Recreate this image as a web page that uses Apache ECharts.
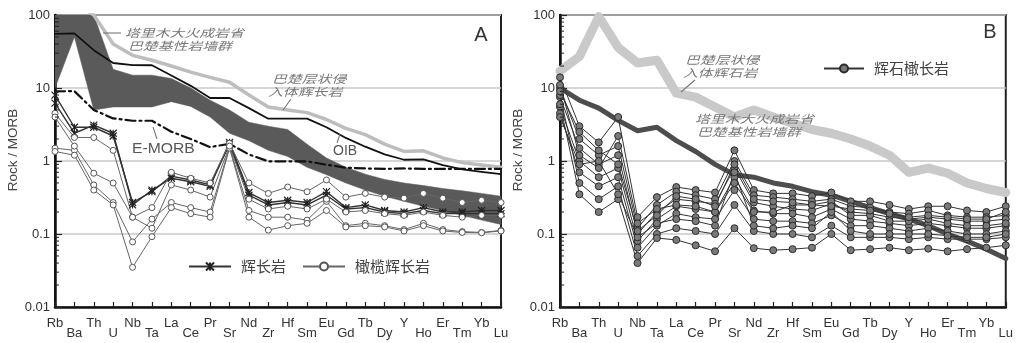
<!DOCTYPE html>
<html><head><meta charset="utf-8">
<script src="https://cdn.jsdelivr.net/npm/echarts@6/dist/echarts.min.js"></script>
<style>html,body{margin:0;padding:0;background:#fff}#c{width:1016px;height:343px}</style>
</head><body><div id="c"></div>
<script>
// ---- data ----
const elements = ['Rb','Ba','Th','U','Nb','Ta','La','Ce','Pr','Sr','Nd','Zr','Hf','Sm','Eu','Gd','Tb','Dy','Y','Ho','Er','Tm','Yb','Lu'];
const yTickLabels = ['0.01','0.1','1','10','100'];
const minorTickValues = [0.02,0.03,0.04,0.05,0.06,0.07,0.08,0.09,0.2,0.3,0.4,0.5,0.6,0.7,0.8,0.9,2,3,4,5,6,7,8,9,20,30,40,50,60,70,80,90];

// Panel A
const oib   = [55,56,33,22,20.6,20.5,14.8,10.7,7.3,7.3,5.3,3.8,3.8,3.8,2.9,2.07,1.57,1.23,1.04,1.05,0.88,0.77,0.71,0.66];
const emorb = [9.0,9.05,5.0,3.83,3.56,3.56,2.52,2.0,1.55,1.72,1.23,0.99,0.99,0.99,0.89,0.81,0.79,0.78,0.79,0.78,0.78,0.78,0.78,0.78];
const bachuGabbroA = [150,150,100,40,28,24,20,16.5,14,12,8,5.5,5,4.6,3.7,2.8,2.3,1.7,1.35,1.38,1.1,0.95,0.88,0.82];
const dykeUpperA = [150,150,100,18,15,15,13.5,10,6.8,5.0,3.4,3.0,2.7,1.7,1.1,0.82,0.66,0.56,0.50,0.46,0.42,0.39,0.36,0.33];
const dykeLowerA = [10,50,5.0,5.5,5.5,5.5,6.5,5.6,4.0,2.4,1.9,1.4,1.15,0.82,0.65,0.5,0.4,0.33,0.28,0.24,0.21,0.18,0.155,0.135];
const gabbro1 = [6.2,2.4,3.1,2.4,0.25,0.40,0.58,0.52,0.45,1.8,0.37,0.27,0.29,0.27,0.38,0.23,0.25,0.21,0.20,0.23,0.20,0.20,0.21,0.21];
const gabbro2 = [8.0,2.9,2.9,2.2,0.27,0.38,0.62,0.55,0.47,1.7,0.34,0.25,0.27,0.25,0.34,0.22,0.23,0.20,0.19,0.21,0.19,0.19,0.19,0.19];
const olGabbro1 = [4.5,2.1,2.1,1.4,0.17,0.23,0.70,0.58,0.50,1.75,0.50,0.36,0.44,0.38,0.55,0.32,0.36,0.32,0.31,0.36,0.31,0.27,0.29,0.27];
const olGabbro2 = [1.5,1.4,0.47,0.27,0.078,0.16,0.27,0.23,0.20,1.55,0.21,0.17,0.17,0.155,0.28,0.13,0.14,0.13,0.115,0.14,0.115,0.108,0.105,0.112];
const olGabbro3 = [1.35,1.2,0.40,0.25,0.035,0.092,0.23,0.19,0.17,1.5,0.17,0.113,0.13,0.14,0.21,0.125,0.13,0.125,0.11,0.13,0.11,0.105,0.104,0.11];
const olGabbro4 = [4.0,1.6,0.68,0.5,0.17,0.12,0.47,0.40,0.32,1.6,0.30,0.22,0.24,0.22,0.30,0.20,0.21,0.19,0.18,0.20,0.18,0.17,0.18,0.18];

// Panel B
const bachuPyroxeniteB = [17,27,95,36,22,24,8.5,7.5,5.5,4.0,5.0,4.0,3.3,2.7,2.4,2.0,1.6,1.2,0.7,0.8,0.68,0.5,0.42,0.37];
const dykeB = [10,6.8,5.3,3.6,2.6,2.9,1.9,1.35,0.9,0.65,0.6,0.5,0.45,0.38,0.34,0.28,0.23,0.19,0.16,0.13,0.1,0.08,0.062,0.046];
const troc1  = [14,3.0,1.8,4.0,0.17,0.32,0.44,0.40,0.37,1.4,0.40,0.36,0.36,0.33,0.37,0.28,0.28,0.25,0.22,0.24,0.24,0.21,0.20,0.24];
const troc2  = [10,2.0,1.2,1.6,0.12,0.25,0.38,0.34,0.30,1.0,0.34,0.32,0.30,0.28,0.30,0.24,0.23,0.20,0.19,0.21,0.18,0.17,0.17,0.18];
const troc3  = [7.5,1.5,0.9,1.2,0.10,0.20,0.30,0.28,0.26,0.8,0.27,0.24,0.22,0.21,0.26,0.20,0.19,0.17,0.16,0.17,0.16,0.15,0.15,0.16];
const troc4  = [5.5,1.0,0.6,0.8,0.08,0.16,0.24,0.22,0.20,0.6,0.21,0.19,0.19,0.17,0.22,0.16,0.15,0.14,0.13,0.14,0.13,0.12,0.12,0.13];
const troc5  = [4.5,0.7,0.45,0.6,0.065,0.13,0.19,0.17,0.16,0.4,0.16,0.15,0.15,0.14,0.18,0.13,0.13,0.12,0.11,0.12,0.11,0.10,0.10,0.11];
const troc6  = [8,0.5,0.3,0.45,0.05,0.10,0.12,0.11,0.10,0.25,0.11,0.10,0.10,0.09,0.13,0.09,0.09,0.09,0.085,0.09,0.085,0.085,0.085,0.09];
const troc7  = [6,0.35,0.2,0.3,0.04,0.088,0.083,0.07,0.058,0.12,0.064,0.06,0.062,0.065,0.10,0.06,0.062,0.065,0.06,0.063,0.058,0.062,0.065,0.07];
const troc8  = [11,1.2,0.8,2.2,0.14,0.22,0.25,0.24,0.20,0.5,0.20,0.20,0.25,0.25,0.28,0.18,0.18,0.15,0.15,0.16,0.14,0.13,0.13,0.14];
const troc9  = [4.0,0.9,1.0,0.35,0.09,0.14,0.16,0.15,0.13,0.7,0.13,0.12,0.13,0.12,0.20,0.11,0.10,0.10,0.10,0.10,0.095,0.09,0.09,0.10];
const troc10 = [9,2.5,1.4,0.9,0.11,0.18,0.33,0.30,0.24,0.9,0.30,0.28,0.27,0.25,0.24,0.22,0.21,0.19,0.17,0.18,0.17,0.16,0.16,0.20];
const trocB = [troc1,troc2,troc3,troc4,troc5,troc6,troc7,troc8,troc9,troc10];

// ---- chart ----
const FONT = 'Liberation Sans, Arial, sans-serif';
const CJK = 'Noto Sans CJK SC, sans-serif';
const chart = echarts.init(document.getElementById('c'), null, {renderer: 'canvas'});

function xAxisCfg(g) {
  return {
    type: 'category', gridIndex: g, data: elements, boundaryGap: false,
    axisLine: {show: true, lineStyle: {color: '#111', width: 2.5}},
    axisTick: {show: true, inside: true, length: 5, interval: 0, lineStyle: {color: '#222', width: 1.2}},
    axisLabel: {interval: 0, margin: 11, color: '#333', fontSize: 13, fontFamily: FONT, lineHeight: 10,
      formatter: (v, i) => (i % 2 ? '\n' + v : v)},
    splitLine: {show: false}
  };
}
function yAxisCfg(g) {
  return {
    type: 'log', gridIndex: g, min: 0.01, max: 100, logBase: 10, splitNumber: 4,
    axisLine: {show: true, lineStyle: {color: '#111', width: 2.5}},
    axisTick: {show: true, inside: true, length: 7, lineStyle: {color: '#222', width: 1.2}},
    axisLabel: {color: '#333', fontSize: 13, fontFamily: FONT, margin: 5,
      formatter: v => {
        const s = parseFloat(Number(v).toPrecision(1)).toString();
        return yTickLabels.indexOf(s) >= 0 ? s : '';
      }},
    splitLine: {show: true, lineStyle: {color: '#c8c8c8', width: 1.5}},
    minorTick: {show: false}
  };
}
function pairs(arr) { return arr.map((v, i) => [i, v]); }

function bandSeries(upper, lower, color, xi) {
  return {
    type: 'custom', xAxisIndex: xi, yAxisIndex: xi, clip: true, z: 1, silent: true,
    data: [[0, lower[0]]],
    renderItem: (params, api) => {
      const pts = [];
      for (let i = 0; i < upper.length; i++) pts.push(api.coord([i, upper[i]]));
      for (let i = lower.length - 1; i >= 0; i--) pts.push(api.coord([i, lower[i]]));
      return {type: 'polygon', shape: {points: pts}, style: {fill: color, stroke: color, lineWidth: 0.5}};
    }
  };
}
function minorTicks(xi) {
  return {
    type: 'custom', xAxisIndex: xi, yAxisIndex: xi, silent: true, z: 5,
    data: minorTickValues.map(v => [0, v]),
    renderItem: (params, api) => {
      const p = api.coord([0, api.value(1)]);
      return {type: 'line', shape: {x1: p[0], y1: p[1], x2: p[0] + 4, y2: p[1]}, style: {stroke: '#222', lineWidth: 1}};
    }
  };
}
function refLine(name, data, xi, color, width, type, z) {
  return {name, type: 'line', xAxisIndex: xi, yAxisIndex: xi, data: pairs(data), symbol: 'none', z: z || 2,
    lineStyle: {color, width, type: type || 'solid', cap: 'round', join: 'round'}, silent: true};
}
const starPath = 'path://M0,0L10,10M10,0L0,10M5,0L5,10';
function gabbroSeries(data) {
  return {name: '辉长岩', type: 'line', xAxisIndex: 0, yAxisIndex: 0, data: pairs(data), z: 4,
    symbol: starPath, symbolSize: 7, showAllSymbol: true,
    lineStyle: {color: '#333', width: 1.4},
    itemStyle: {color: 'rgba(0,0,0,0)', borderColor: '#222', borderWidth: 1.2}};
}
function olSeries(data) {
  return {name: '橄榄辉长岩', type: 'line', xAxisIndex: 0, yAxisIndex: 0, data: pairs(data), z: 4,
    symbol: 'circle', symbolSize: 6, showAllSymbol: true,
    lineStyle: {color: '#666', width: 1},
    itemStyle: {color: '#fff', borderColor: '#555', borderWidth: 1}};
}
function trocSeries(data) {
  return {name: '辉石橄长岩', type: 'line', xAxisIndex: 1, yAxisIndex: 1, data: pairs(data), z: 4,
    symbol: 'circle', symbolSize: 7, showAllSymbol: true,
    lineStyle: {color: '#333', width: 1},
    itemStyle: {color: '#7a7a7a', borderColor: '#2a2a2a', borderWidth: 1}};
}

function cjkText(x, y, text) {
  return {type: 'text', x, y, scaleX: 1.35, silent: true, z: 100,
    style: {text, x: 0, y: 0, fill: '#777', fontSize: 11, fontStyle: 'italic', fontFamily: CJK, verticalAlign: 'middle', align: 'left'}};
}
function lead(x1, y1, x2, y2) {
  return {type: 'line', silent: true, z: 100, shape: {x1, y1, x2, y2}, style: {stroke: '#777', lineWidth: 1.1}};
}

const option = {
  animation: false,
  backgroundColor: '#fff',
  grid: [
    {left: 55, top: 15, width: 446, height: 292, show: true, borderColor: '#222', borderWidth: 2, backgroundColor: 'transparent'},
    {left: 560, top: 15, width: 446, height: 292, show: true, borderColor: '#222', borderWidth: 2, backgroundColor: 'transparent'}
  ],
  xAxis: [xAxisCfg(0), xAxisCfg(1)],
  yAxis: [yAxisCfg(0), yAxisCfg(1)],
  legend: [
    {left: 188, top: 259, padding: 0, itemWidth: 42, itemHeight: 10, itemGap: 16,
      data: ['辉长岩', '橄榄辉长岩'], textStyle: {fontSize: 15, color: '#444', fontFamily: CJK, padding: [0, 0, 0, 5]}},
    {left: 823, top: 61, padding: 0, itemWidth: 40, itemHeight: 10,
      data: ['辉石橄长岩'], textStyle: {fontSize: 15, color: '#444', fontFamily: CJK, padding: [0, 0, 0, 5]}}
  ],
  series: [
    bandSeries(dykeUpperA, dykeLowerA, '#5a5a5a', 0),
    refLine('巴楚层状侵入体辉长岩', bachuGabbroA, 0, '#bdbdbd', 3.5, 'solid', 2),
    refLine('OIB', oib, 0, '#111', 1.8, 'solid', 3),
    refLine('E-MORB', emorb, 0, '#111', 2.2, [10, 4, 2, 4], 3),
    gabbroSeries(gabbro1), gabbroSeries(gabbro2),
    olSeries(olGabbro1), olSeries(olGabbro2), olSeries(olGabbro3), olSeries(olGabbro4),
    minorTicks(0),
    refLine('巴楚层状侵入体辉石岩', bachuPyroxeniteB, 1, '#c9c9c9', 9, 'solid', 2),
    refLine('塔里木大火成岩省巴楚基性岩墙群', dykeB, 1, '#4d4d4d', 5, 'solid', 3),
    ...trocB.map(trocSeries),
    minorTicks(1)
  ],
  graphic: [
    {type: 'text', x: 481, y: 35, silent: true, style: {text: 'A', fill: '#333', fontSize: 20, fontFamily: FONT, align: 'center', verticalAlign: 'middle'}},
    {type: 'text', x: 990, y: 32, silent: true, style: {text: 'B', fill: '#333', fontSize: 20, fontFamily: FONT, align: 'center', verticalAlign: 'middle'}},
    {type: 'text', x: 13, y: 150, rotation: Math.PI / 2, silent: true, style: {text: 'Rock / MORB', fill: '#444', fontSize: 13.5, fontFamily: FONT, align: 'center', verticalAlign: 'middle'}},
    {type: 'text', x: 518, y: 150, rotation: Math.PI / 2, silent: true, style: {text: 'Rock / MORB', fill: '#444', fontSize: 13.5, fontFamily: FONT, align: 'center', verticalAlign: 'middle'}},
    cjkText(125, 33, '塔里木大火成岩省'),
    cjkText(128, 46, '巴楚基性岩墙群'),
    lead(103, 33, 121, 33),
    cjkText(272, 79, '巴楚层状侵'),
    cjkText(268, 92, '入体辉长岩'),
    lead(291, 99, 283, 110),
    cjkText(685, 60, '巴楚层状侵'),
    cjkText(683, 73, '入体辉石岩'),
    lead(695, 80, 681, 92),
    cjkText(695, 119, '塔里木大火成岩省'),
    cjkText(697, 132, '巴楚基性岩墙群'),
    {type: 'text', x: 132, y: 149, scaleX: 1.12, silent: true, z: 100, style: {text: 'E-MORB', fill: '#555', fontSize: 14, fontFamily: FONT, verticalAlign: 'middle'}},
    lead(157, 139, 153, 127),
    {type: 'text', x: 333, y: 151, silent: true, z: 100, style: {text: 'OIB', fill: '#555', fontSize: 14, fontFamily: FONT, verticalAlign: 'middle'}},
    lead(337, 143, 340, 134)
  ]
};
chart.setOption(option);
</script>
</body></html>
